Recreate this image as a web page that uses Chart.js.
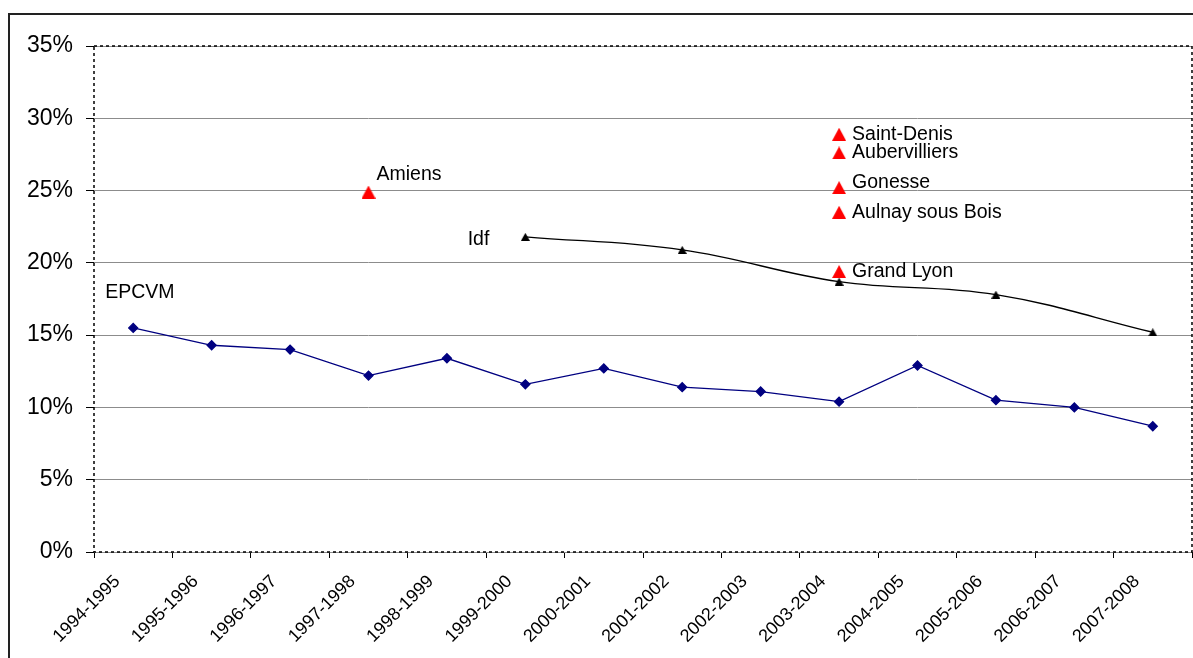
<!DOCTYPE html>
<html>
<head>
<meta charset="utf-8">
<script src="https://cdn.jsdelivr.net/npm/chart.js@4.4.0/dist/chart.umd.min.js"></script>
<style>
    html, body { margin: 0; padding: 0; background: #fff; }
    #wrap { position: relative; width: 1193px; height: 658px; }
</style>
</head>
<body>
<div id="wrap"><canvas id="myChart"></canvas></div>
<script>
// ============================================
// DATA
// ============================================

const years = [
    '1994-1995', '1995-1996', '1996-1997', '1997-1998', '1998-1999',
    '1999-2000', '2000-2001', '2001-2002', '2002-2003', '2003-2004',
    '2004-2005', '2005-2006', '2006-2007', '2007-2008'
];

// taux EPCVM (%)
const epcvm = [15.5, 14.3, 14.0, 12.2, 13.4, 11.6, 12.7, 11.4, 11.1, 10.4, 12.9, 10.5, 10.0, 8.7];

// Ile-de-France, une année sur deux
const idf = [null, null, null, null, null, 21.8, null, 20.9, null, 18.7, null, 17.8, null, 15.2];

// autres villes (points isolés)
const villes = ['Amiens', 'Saint-Denis', 'Aubervilliers', 'Gonesse', 'Aulnay sous Bois', 'Grand Lyon'];
const villesAnnee = ['1997-1998', '2003-2004', '2003-2004', '2003-2004', '2003-2004', '2003-2004'];
const villesTaux = [24.9, 28.9, 27.6, 25.2, 23.5, 19.4];

const yTicks = [0, 5, 10, 15, 20, 25, 30, 35];

// ============================================
// HELPERS
// ============================================

const FONT = 'Arial, "Liberation Sans", sans-serif';

// centred triangle marker
function triangle(w, h, color) {
    const c = document.createElement('canvas');
    c.width = w;
    c.height = h;
    const g = c.getContext('2d');
    g.fillStyle = color;
    g.beginPath();
    g.moveTo(w / 2, 0);
    g.lineTo(w, h);
    g.lineTo(0, h);
    g.closePath();
    g.fill();
    return c;
}

// offsets of the name labels, relative to their point
const labelOffsets = {
    'Amiens': [8, -17],
    'Saint-Denis': [13, 0],
    'Aubervilliers': [13, 0],
    'Gonesse': [13, -5],
    'Aulnay sous Bois': [13, 0],
    'Grand Lyon': [13, 0]
};

const namesPlugin = {
    id: 'names',
    afterDatasetsDraw(chart) {
        const c = chart.ctx;
        c.save();
        c.font = '19.5px ' + FONT;
        c.fillStyle = '#000';
        c.textBaseline = 'middle';

        // EPCVM above the first point
        const p0 = chart.getDatasetMeta(0).data[0];
        c.textAlign = 'left';
        c.fillText('EPCVM', p0.x - 28, p0.y - 35);

        // Idf left of its first point
        const pIdf = chart.getDatasetMeta(1).data[5];
        c.textAlign = 'right';
        c.fillText('Idf', pIdf.x - 36, pIdf.y + 3);

        // city names
        c.textAlign = 'left';
        chart.getDatasetMeta(2).data.forEach((pt, i) => {
            const off = labelOffsets[villes[i]];
            c.fillText(villes[i], pt.x + off[0], pt.y + off[1]);
        });
        c.restore();
    }
};

const framePlugin = {
    id: 'frame',
    beforeDraw(chart) {
        const c = chart.ctx;
        c.save();
        c.fillStyle = '#fff';
        c.fillRect(0, 0, chart.width, chart.height);
        // outer frame
        c.strokeStyle = '#222';
        c.lineWidth = 2;
        c.beginPath();
        c.moveTo(9, chart.height);
        c.lineTo(9, 14);
        c.lineTo(chart.width, 14);
        c.stroke();
        c.restore();
    },
    afterDraw(chart) {
        const a = chart.chartArea;
        const c = chart.ctx;
        c.save();
        c.strokeStyle = '#000';
        c.lineWidth = 1.5;
        c.setLineDash([3, 3]);
        c.strokeRect(a.left, a.top, a.right - a.left, a.bottom - a.top);
        c.restore();
    }
};

// ============================================
// CREATE CHART
// ============================================

const ctx = document.getElementById('myChart');

new Chart(ctx, {
    type: 'line',
    data: {
        labels: years,
        datasets: [
            {
                label: 'EPCVM',
                data: epcvm,
                borderColor: '#000080',
                backgroundColor: '#000080',
                borderWidth: 1.3,
                pointStyle: 'rectRot',
                pointRadius: 4.5,
                tension: 0
            },
            {
                label: 'Idf',
                data: idf,
                spanGaps: true,
                borderColor: '#000',
                backgroundColor: '#000',
                borderWidth: 1.3,
                pointStyle: triangle(9, 8, '#000'),
                tension: 0.4
            },
            {
                label: 'Villes',
                data: villesTaux.map((v, i) => ({ x: villesAnnee[i], y: v })),
                showLine: false,
                pointStyle: triangle(14, 13, '#ff0000')
            }
        ]
    },
    options: {
        responsive: true,
        maintainAspectRatio: false,
        animation: false,
        layout: {
            autoPadding: false,
            padding: { left: 0, right: 1, top: 46, bottom: 0 }
        },
        plugins: {
            legend: { display: false },
            tooltip: { enabled: false }
        },
        scales: {
            x: {
                offset: true,
                border: { display: false },
                grid: {
                    offset: true,
                    drawOnChartArea: false,
                    tickLength: 6,
                    tickColor: '#000'
                },
                ticks: {
                    autoSkip: false,
                    minRotation: 45,
                    maxRotation: 45,
                    padding: 13,
                    labelOffset: -16,
                    color: '#000',
                    font: { family: FONT, size: 18 }
                },
                afterFit(scale) {
                    scale.height = 106;
                    scale.paddingLeft = 0;
                    scale.paddingRight = 0;
                }
            },
            y: {
                min: 0,
                max: 35,
                border: { display: false },
                afterBuildTicks(scale) {
                    scale.ticks = yTicks.map(v => ({ value: v }));
                },
                grid: {
                    color: '#8c8c8c',
                    tickColor: '#000',
                    tickLength: 8,
                    lineWidth: 1
                },
                ticks: {
                    padding: 13,
                    color: '#000',
                    font: { family: FONT, size: 23 },
                    callback: v => v + '%'
                },
                afterFit(scale) { scale.width = 94; }
            }
        }
    },
    plugins: [framePlugin, namesPlugin]
});
</script>
</body>
</html>
